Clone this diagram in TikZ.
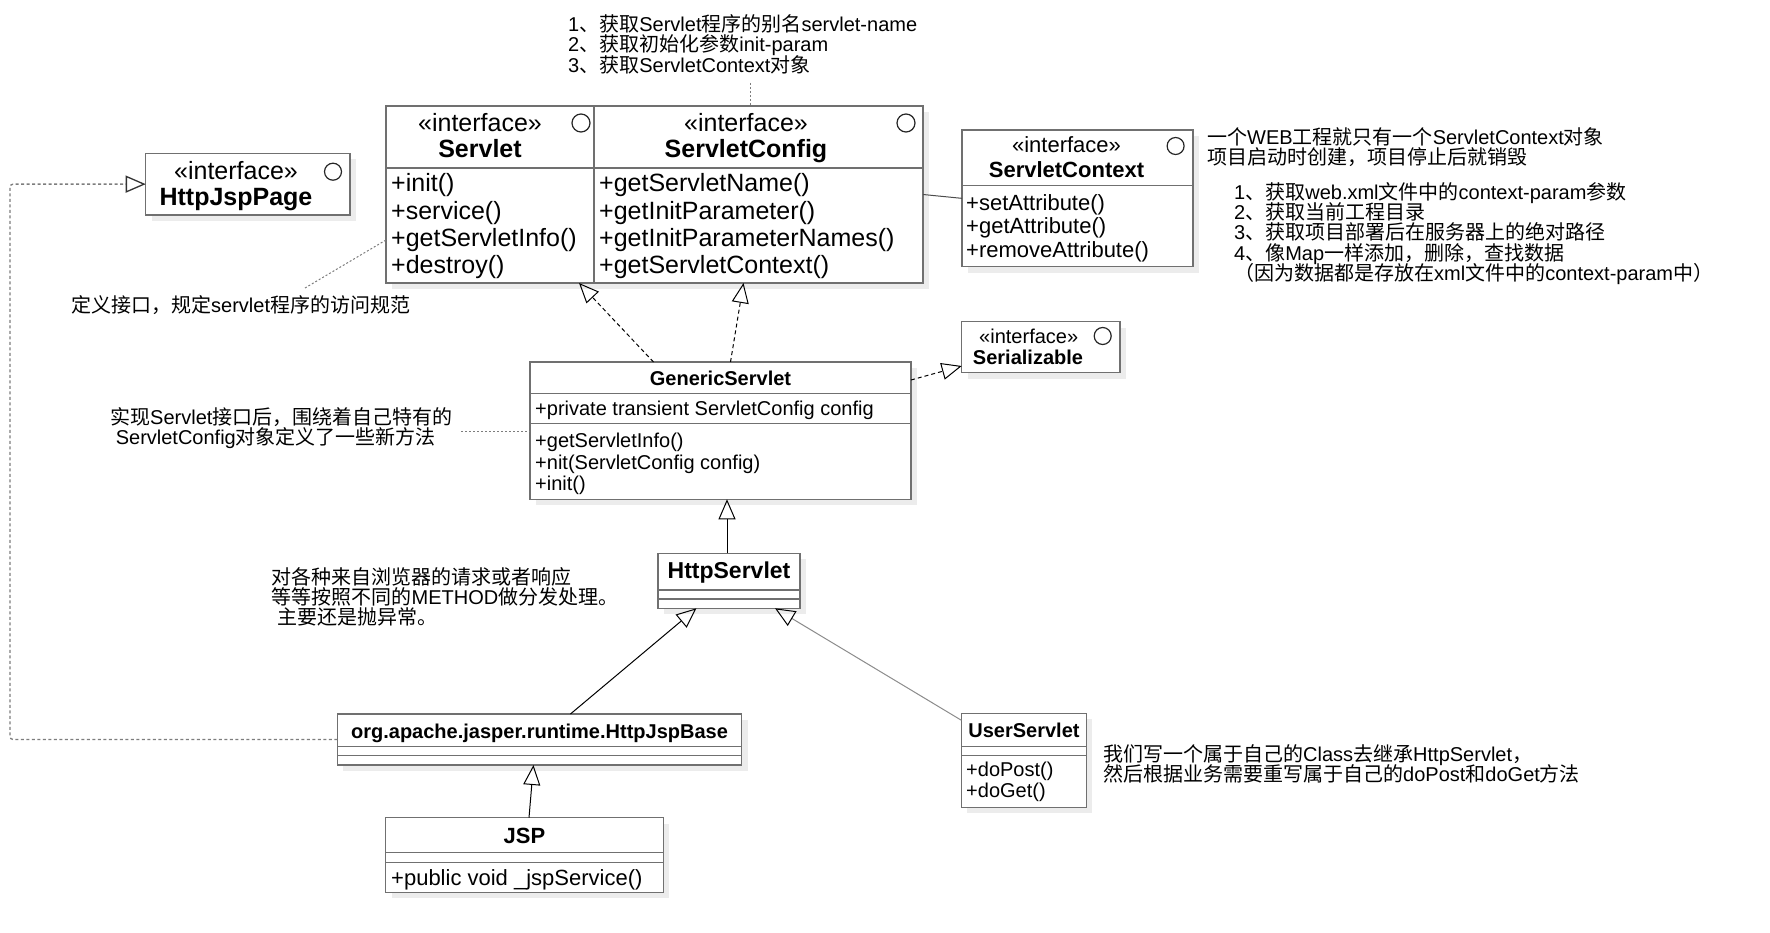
\documentclass[tikz,border=0pt]{standalone}
\usepackage{fontspec}
\setmainfont{Liberation Sans}
\newfontfamily\cjkfont{Noto Sans CJK SC}
\newXeTeXintercharclass\hanclass
\newcount\hancode
\hancode="3000
\loop\ifnum\hancode<"A000
  \XeTeXcharclass\hancode=\hanclass
  \advance\hancode by 1
\repeat
\hancode="FF00
\loop\ifnum\hancode<"FFF0
  \XeTeXcharclass\hancode=\hanclass
  \advance\hancode by 1
\repeat
\XeTeXinterchartoks 0 \hanclass = {\cjkfont}
\XeTeXinterchartoks 4095 \hanclass = {\cjkfont}
\XeTeXinterchartoks \hanclass 0 = {\normalfont}
\XeTeXinterchartoks \hanclass 4095 = {\normalfont}
\XeTeXinterchartokenstate=1
\usetikzlibrary{arrows.meta, shadows}
\definecolor{boxgray}{RGB}{112,112,112}
\definecolor{shadegray}{RGB}{236,236,236}
\definecolor{linegray}{RGB}{125,125,125}

\begin{document}
\begin{tikzpicture}[x=1pt, y=-1pt, >={Triangle[open, length=20pt, width=17pt]},
    umlbox/.style={draw=boxgray, line width=1.5pt, fill=white, inner sep=0pt, outer sep=0pt, anchor=north west,
        drop shadow={shadow xshift=6pt, shadow yshift=-6pt, fill=shadegray, opacity=1}},
    sep/.style={draw=boxgray, line width=1.5pt},
    txt/.style={inner sep=0pt},
    ops/.style={inner sep=0pt, anchor=west, align=left},
    note/.style={inner sep=0pt, anchor=west, align=left,
        font={\fontsize{20}{20.2}\selectfont\lineskiplimit-30pt\relax\lineskip0pt\relax}},
    ball/.style={draw=black!85, line width=1.2pt, fill=white},
    realize/.style={->, line width=1pt, dash pattern=on 4pt off 3pt},
    inherit/.style={->, line width=1pt},
    noteline/.style={draw=linegray, line width=1pt, dash pattern=on 2pt off 2pt}]

    \fill[white] (0,0) rectangle (1770,933);
    \useasboundingbox (0,0) rectangle (1770,933);

    \node[umlbox, minimum width=204.3pt, minimum height=61.7pt] (hjp) at (145.7,153.3) {};
    \node[txt, font=\fontsize{25}{27}\selectfont] (hjp-st) at (236,170.7) {«interface»};
    \node[txt, font=\fontsize{25}{27}\selectfont\bfseries] (hjp-nm) at (236,199.7) {HttpJspPage};
    \draw[ball] (333,171.7) circle (8.5pt);

    \node[umlbox, minimum width=208pt, minimum height=177pt] (servlet) at (386,106) {};
    \node[umlbox, minimum width=329pt, minimum height=177pt] (scfg) at (594,106) {};
    \draw[sep] (servlet.west |- 0,168) -- (scfg.east |- 0,168);
    \node[txt, font=\fontsize{25}{27}\selectfont] (servlet-st) at (480,123) {«interface»};
    \node[txt, font=\fontsize{25}{27}\selectfont\bfseries] (servlet-nm) at (480,149) {Servlet};
    \draw[ball] (581,123) circle (9pt);
    \node[ops, font=\fontsize{25}{27.3}\selectfont] (servlet-ops) at (391,226.3) {+init()\\+service()\\+getServletInfo()\\+destroy()};
    \node[txt, font=\fontsize{25}{27}\selectfont] (scfg-st) at (746,123) {«interface»};
    \node[txt, font=\fontsize{25}{27}\selectfont\bfseries] (scfg-nm) at (746,151.3) {ServletConfig};
    \draw[ball] (906,123) circle (9pt);
    \node[ops, font=\fontsize{25}{27.3}\selectfont] (scfg-ops) at (599,226.3) {+getServletName()\\+getInitParameter()\\+getInitParameterNames()\\+getServletContext()};

    \node[umlbox, minimum width=231pt, minimum height=136.7pt] (ctx) at (962,130) {};
    \draw[sep] (ctx.west |- 0,185.7) -- (ctx.east |- 0,185.7);
    \node[txt, font=\fontsize{22}{24}\selectfont] (ctx-st) at (1066.5,145) {«interface»};
    \node[txt, font=\fontsize{22}{24}\selectfont\bfseries] (ctx-nm) at (1066.5,170) {ServletContext};
    \draw[ball] (1175.6,146) circle (8.5pt);
    \node[ops, font=\fontsize{22}{23.5}\selectfont] (ctx-ops) at (966,228) {+setAttribute()\\+getAttribute()\\+removeAttribute()};

    \node[umlbox, minimum width=158.3pt, minimum height=51pt] (ser) at (961.7,321.7) {};
    \node[txt, font=\fontsize{20}{22}\selectfont] (ser-st) at (1028.7,336) {«interface»};
    \node[txt, font=\fontsize{20}{22}\selectfont\bfseries] (ser-nm) at (1028,357.7) {Serializable};
    \draw[ball] (1102.7,336) circle (8.5pt);

    \node[umlbox, minimum width=381pt, minimum height=137.3pt] (gs) at (530,362) {};
    \draw[sep] (gs.west |- 0,393.3) -- (gs.east |- 0,393.3);
    \draw[sep] (gs.west |- 0,423.3) -- (gs.east |- 0,423.3);
    \node[txt, font=\fontsize{20}{22}\selectfont\bfseries] (gs-nm) at (720.5,378.3) {GenericServlet};
    \node[ops, font=\fontsize{20}{22}\selectfont] (gs-attr) at (535,410.5) {+private transient ServletConfig config};
    \node[ops, font=\fontsize{20}{21.3}\selectfont] (gs-ops) at (535,464) {+getServletInfo()\\+nit(ServletConfig config)\\+init()};

    \node[umlbox, minimum width=142pt, minimum height=55pt] (hs) at (658,553.3) {};
    \draw[sep] (hs.west |- 0,590) -- (hs.east |- 0,590);
    \draw[sep] (hs.west |- 0,599) -- (hs.east |- 0,599);
    \node[txt, font=\fontsize{23}{25}\selectfont\bfseries] (hs-nm) at (729,573) {HttpServlet};

    \node[umlbox, minimum width=404.3pt, minimum height=51pt] (jb) at (337.3,714) {};
    \draw[sep] (jb.west |- 0,746.7) -- (jb.east |- 0,746.7);
    \draw[sep] (jb.west |- 0,755.7) -- (jb.east |- 0,755.7);
    \node[txt, font=\fontsize{20}{22}\selectfont\bfseries] (jb-nm) at (539.5,733) {org.apache.jasper.runtime.HttpJspBase};

    \node[umlbox, minimum width=125pt, minimum height=94pt] (us) at (961.4,713.3) {};
    \draw[sep] (us.west |- 0,746.7) -- (us.east |- 0,746.7);
    \draw[sep] (us.west |- 0,755.7) -- (us.east |- 0,755.7);
    \node[txt, font=\fontsize{20}{22}\selectfont\bfseries] (us-nm) at (1024,730.7) {UserServlet};
    \node[ops, font=\fontsize{20}{21}\selectfont] (us-ops) at (966,782) {+doPost()\\+doGet()};

    \node[umlbox, minimum width=277.6pt, minimum height=74.6pt] (jsp) at (385.7,817.7) {};
    \draw[sep] (jsp.west |- 0,852.3) -- (jsp.east |- 0,852.3);
    \draw[sep] (jsp.west |- 0,862.3) -- (jsp.east |- 0,862.3);
    \node[txt, font=\fontsize{22}{24}\selectfont\bfseries] (jsp-nm) at (524.5,836) {JSP};
    \node[ops, font=\fontsize{22}{24}\selectfont] (jsp-ops) at (391,880) {+public void \_jspService()};

    \node[note] (tnote) at (568,44.3) {1、获取Servlet程序的别名servlet-name\\2、获取初始化参数init-param\\3、获取ServletContext对象};
    \node[note] (snote) at (71,305) {定义接口，规定servlet程序的访问规范};
    \node[note] (ctx-note) at (1207,147) {一个WEB工程就只有一个ServletContext对象\\项目启动时创建，项目停止后就销毁};
    \node[note] (ctx-uses) at (1234,233.5) {1、获取web.xml文件中的context-param参数\\2、获取当前工程目录\\3、获取项目部署后在服务器上的绝对路径\\4、像Map一样添加，删除，查找数据\\（因为数据都是存放在xml文件中的context-param中）};
    \node[note] (gnote) at (110,428) {实现Servlet接口后，围绕着自己特有的\\\hspace*{5.6pt}ServletConfig对象定义了一些新方法};
    \node[note] (hnote) at (271.4,597) {对各种来自浏览器的请求或者响应\\等等按照不同的METHOD做分发处理。\\\hspace*{5.6pt}主要还是抛异常。};
    \node[note] (unote) at (1103,763.7) {我们写一个属于自己的Class去继承HttpServlet，\\然后根据业务需要重写属于自己的doPost和doGet方法};

    \coordinate (tnote-end) at (750,83);
    \coordinate (snote-end) at (305,288);
    \coordinate (gnote-end) at (461,431);
    \draw[noteline] (tnote-end) -- (tnote-end |- scfg.north);
    \draw[noteline] (snote-end) -- ([yshift=-45.5pt]servlet.west);
    \draw[noteline] (gnote-end) -- (gnote-end -| gs.west);

    \draw[line width=1pt, black!70] (scfg.east) -- (ctx.west);
    \draw[realize] ([xshift=-67pt]gs.north) -- ([xshift=89pt]servlet.south);
    \draw[realize] ([xshift=10pt]gs.north) -- ([xshift=-15pt]scfg.south);
    \draw[realize] ([yshift=-18pt]gs.north east) -- ([yshift=-18.8pt]ser.west);
    \draw[inherit] ([xshift=-2pt]hs.north) -- ([xshift=-2pt]hs.north |- gs.south);
    \draw[inherit] ([xshift=31pt]jb.north) -- ([xshift=-32.6pt]hs.south);
    \draw[line width=1pt, black!45, -{Triangle[open, length=20pt, width=17pt, black]}] ([yshift=-7pt]us.north west) -- ([xshift=46pt]hs.south);
    \draw[inherit] ([xshift=4.5pt]jsp.north) -- ([xshift=-6pt]jb.south);
    \draw[draw=linegray, line width=1.3pt, dash pattern=on 3pt off 2.5pt, rounded corners=3pt, -{Triangle[open, length=20pt, width=17pt, black!80]}]
        (jb.west) -| ([xshift=-135.7pt]hjp.west) -- (hjp.west);
\end{tikzpicture}
\end{document}
